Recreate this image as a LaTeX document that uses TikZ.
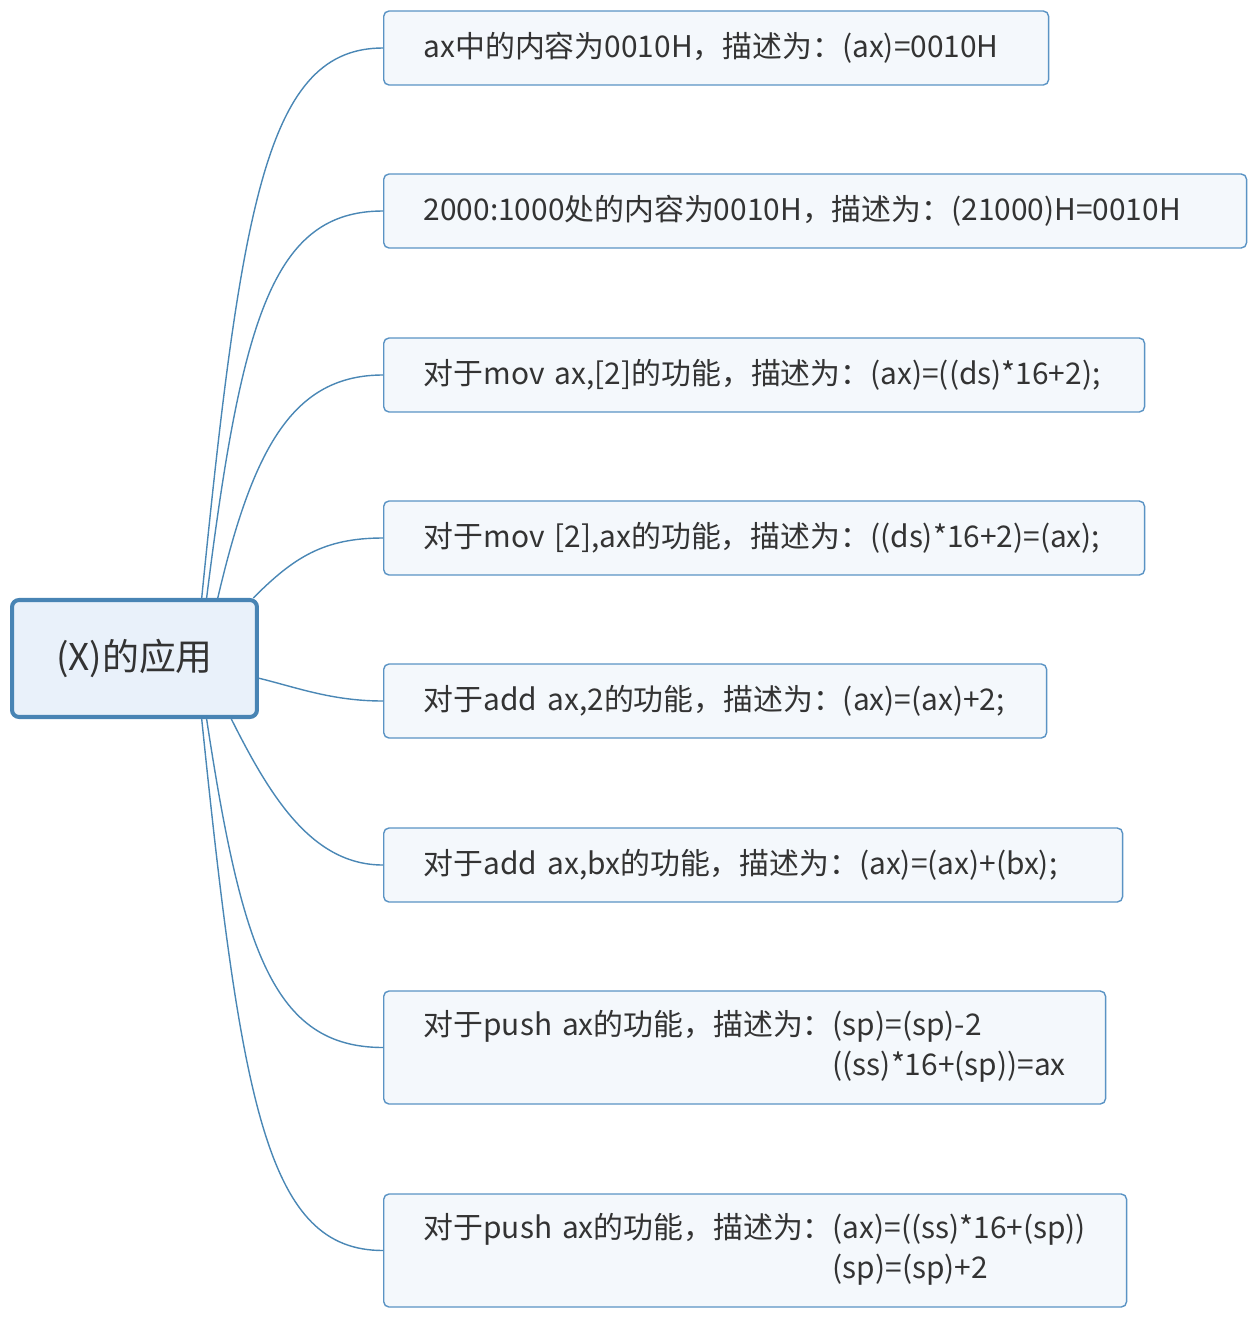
\documentclass[tikz,border=0pt]{standalone}
\usepackage{fontspec}
\setmainfont{Noto Sans CJK SC}
\definecolor{linkblue}{HTML}{4A87B5}
\definecolor{rootline}{HTML}{4884B4}
\definecolor{rootfill}{HTML}{E9F1FA}
\definecolor{leafline}{HTML}{5A93C4}
\definecolor{leaffill}{HTML}{F4F8FC}
\definecolor{inkgray}{HTML}{333333}
\tikzset{
  rootbox/.style={draw=rootline, line width=2.3pt, fill=rootfill, rounded corners=4pt,
    minimum width=4.9cm, minimum height=2.34cm, text=inkgray,
    font=\fontsize{21}{25}\selectfont},
  leafbox/.style={draw=leafline, line width=0.8pt, fill=leaffill, rounded corners=3pt,
    anchor=west, inner xsep=0.8cm, minimum height=1.48cm, text=inkgray, align=left,
    font=\fontsize{17}{22.7}\selectfont},
  link/.style={draw=linkblue, line width=0.8pt}
}
\begin{document}
\begin{tikzpicture}[x=0.02cm,y=-0.02cm]
\useasboundingbox (0,0) rectangle (1256,1318);
\node[rootbox] (root) at (134.5,658.5) {(X)的应用};
\node[leafbox, text width=11.7cm] (c1) at (383,48) {ax中的内容为0010H，描述为：(ax)=0010H};
\node[leafbox, text width=15.66cm] (c2) at (383,211) {2000:1000处的内容为0010H，描述为：(21000)H=0010H};
\node[leafbox, text width=13.62cm] (c3) at (383,375) {对于mov ax,[2]的功能，描述为：(ax)=((ds)*16+2);};
\node[leafbox, text width=13.62cm] (c4) at (383,538) {对于mov [2],ax的功能，描述为：((ds)*16+2)=(ax);};
\node[leafbox, text width=11.66cm] (c5) at (383,701) {对于add ax,2的功能，描述为：(ax)=(ax)+2;};
\node[leafbox, text width=13.18cm] (c6) at (383,865) {对于add ax,bx的功能，描述为：(ax)=(ax)+(bx);};
\node[leafbox, text width=12.84cm, minimum height=2.26cm] (c7) at (383,1047.5) {\begin{tabular}{@{}l@{}l@{}}
  对于push ax的功能，描述为：&(sp)=(sp)-2\\ &((ss)*16+(sp))=ax\end{tabular}};
\node[leafbox, text width=13.26cm, minimum height=2.26cm] (c8) at (383,1250.5) {\begin{tabular}{@{}l@{}l@{}}
  对于push ax的功能，描述为：&(ax)=((ss)*16+(sp))\\ &(sp)=(sp)+2\end{tabular}};
% branches
\draw[link] (root.42) .. controls +(40,-400) and +(-115,0) .. (c1.west);
\draw[link] (root.40) .. controls +(35,-280) and +(-110,0) .. (c2.west);
\draw[link] (root.36) .. controls +(35,-150) and +(-90,0) .. (c3.west);
\draw[link] (root.27) .. controls +(40,-40) and +(-60,0) .. (c4.west);
\draw[link] (root.-9) .. controls +(40,10) and +(-50,0) .. (c5.west);
\draw[link] (root.-32) .. controls +(40,80) and +(-70,0) .. (c6.west);
\draw[link] (root.-40) .. controls +(35,230) and +(-110,0) .. (c7.west);
\draw[link] (root.-42) .. controls +(40,390) and +(-115,0) .. (c8.west);
\end{tikzpicture}
\end{document}
